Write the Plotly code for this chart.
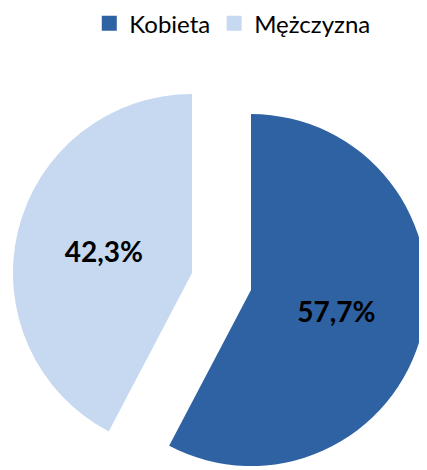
import plotly.graph_objects as go

labels = ["Kobieta", "Mężczyzna"]
values = [57.7, 42.3]
colors = ["#2F62A3", "#C6D9F0"]

def fmt(v):
    return f"{v:.1f}".replace(".", ",") + "%"

# page has an 8px body margin, so the figure is sized to end at the window edge
W, H = 419, 462
radii = [176, 179]
# exploded slice vertices (figure pixels)
centers = [(243, 282), (184, 265)]
legend_x = [0.194, 0.492]

fig = go.Figure()
for i, ((cx, cy), R) in enumerate(zip(centers, radii)):
    slice_colors = [colors[j] if j == i else "rgba(0,0,0,0)" for j in range(len(values))]
    texts = [fmt(values[j]) if j == i else "" for j in range(len(values))]
    yc = 1 - cy / H
    fig.add_trace(go.Pie(
        labels=labels, values=values, sort=False, direction="clockwise", rotation=0,
        marker=dict(colors=slice_colors, line=dict(width=0)),
        text=texts, textinfo="text", textposition="inside",
        insidetextorientation="horizontal",
        textfont=dict(family="Lato", size=28, color="black", weight="bold"),
        domain=dict(x=[max(0, (cx - R) / W), min(1, (cx + R) / W)],
                    y=[yc - R / H, yc + R / H]),
        showlegend=False, hoverinfo="skip",
    ))

for k, (lab, col) in enumerate(zip(labels, colors)):
    fig.add_trace(go.Scatter(x=[None], y=[None], mode="markers", name=lab,
                             legend="legend" if k == 0 else f"legend{k + 1}",
                             marker=dict(symbol="square", size=15, color=col)))

leg_common = dict(orientation="h", xanchor="left", y=1.015, yanchor="top",
                  font=dict(family="Lato", size=24, color="black"), itemsizing="trace",
                  bgcolor="rgba(0,0,0,0)")
fig.update_layout(
    width=W, height=H, margin=dict(l=0, r=0, t=0, b=0, autoexpand=False),
    paper_bgcolor="white", plot_bgcolor="white",
    xaxis=dict(visible=False), yaxis=dict(visible=False),
    legend=dict(x=legend_x[0], **leg_common),
    legend2=dict(x=legend_x[1], **leg_common),
)
fig.write_html("out.html")
